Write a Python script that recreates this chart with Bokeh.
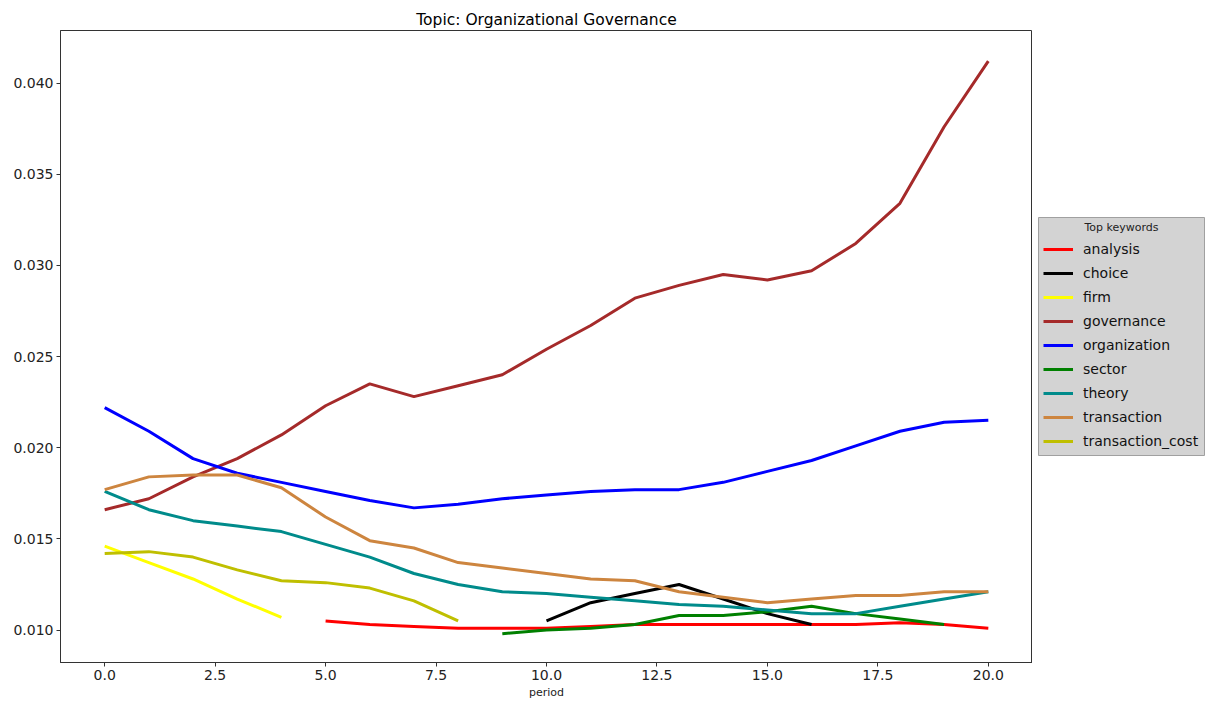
from bokeh.plotting import figure
from bokeh.models import Legend, LegendItem, FixedTicker, NumeralTickFormatter, Range1d
from bokeh.core.properties import value
from bokeh.layouts import row
from bokeh.embed import file_html
from bokeh.resources import INLINE

FONT = "DejaVu Sans"

analysis_x = list(range(5, 21))
analysis_y = [0.0105, 0.0103, 0.0102, 0.0101, 0.0101, 0.0101, 0.0102, 0.0103, 0.0103, 0.0103,
              0.0103, 0.0103, 0.0103, 0.0104, 0.0103, 0.0101]
choice_x = list(range(10, 17))
choice_y = [0.0105, 0.0115, 0.0120, 0.0125, 0.0117, 0.0109, 0.0103]
firm_x = list(range(0, 5))
firm_y = [0.0146, 0.0137, 0.0128, 0.0117, 0.0107]
governance_x = list(range(0, 21))
governance_y = [0.0166, 0.0172, 0.0184, 0.0194, 0.0207, 0.0223, 0.0235, 0.0228, 0.0234, 0.0240,
                0.0254, 0.0267, 0.0282, 0.0289, 0.0295, 0.0292, 0.0297, 0.0312, 0.0334, 0.0376, 0.0412]
organization_x = list(range(0, 21))
organization_y = [0.0222, 0.0209, 0.0194, 0.0186, 0.0181, 0.0176, 0.0171, 0.0167, 0.0169, 0.0172,
                  0.0174, 0.0176, 0.0177, 0.0177, 0.0181, 0.0187, 0.0193, 0.0201, 0.0209, 0.0214, 0.0215]
sector_x = list(range(9, 20))
sector_y = [0.0098, 0.0100, 0.0101, 0.0103, 0.0108, 0.0108, 0.0110, 0.0113, 0.0109, 0.0106, 0.0103]
theory_x = list(range(0, 21))
theory_y = [0.0176, 0.0166, 0.0160, 0.0157, 0.0154, 0.0147, 0.0140, 0.0131, 0.0125, 0.0121,
            0.0120, 0.0118, 0.0116, 0.0114, 0.0113, 0.0111, 0.0109, 0.0109, 0.0113, 0.0117, 0.0121]
transaction_x = list(range(0, 21))
transaction_y = [0.0177, 0.0184, 0.0185, 0.0185, 0.0178, 0.0162, 0.0149, 0.0145, 0.0137, 0.0134,
                 0.0131, 0.0128, 0.0127, 0.0121, 0.0118, 0.0115, 0.0117, 0.0119, 0.0119, 0.0121, 0.0121]
transaction_cost_x = list(range(0, 9))
transaction_cost_y = [0.0142, 0.0143, 0.0140, 0.0133, 0.0127, 0.0126, 0.0123, 0.0116, 0.0105]

series = [
    ("analysis", analysis_x, analysis_y, "#ff0000"),
    ("choice", choice_x, choice_y, "#000000"),
    ("firm", firm_x, firm_y, "#ffff00"),
    ("governance", governance_x, governance_y, "#a52a2a"),
    ("organization", organization_x, organization_y, "#0000ff"),
    ("sector", sector_x, sector_y, "#008000"),
    ("theory", theory_x, theory_y, "#008b8b"),
    ("transaction", transaction_x, transaction_y, "#cd853f"),
    ("transaction_cost", transaction_cost_x, transaction_cost_y, "#bfbf00"),
]
legend_title = "Top keywords"

x_ticks = [0, 2.5, 5, 7.5, 10, 12.5, 15, 17.5, 20]
y_ticks = [0.010, 0.015, 0.020, 0.025, 0.030, 0.035, 0.040]

H = 704
TOP, BOTTOM = 30, 42
p = figure(width=1032, height=H, output_backend="svg", toolbar_location=None,
           x_range=Range1d(-1.0, 21.0), y_range=Range1d(0.00822, 0.04288),
           min_border_left=60, min_border_right=0, min_border_top=TOP, min_border_bottom=BOTTOM)

p.title.text = "Topic: Organizational Governance"
p.title.align = "center"
p.title.text_font = FONT
p.title.text_font_size = "15.5px"
p.title.text_font_style = "normal"
p.title.text_color = "#000000"
p.title.standoff = 4

p.xgrid.visible = False
p.ygrid.visible = False
p.outline_line_color = "#333333"
p.outline_line_width = 1

for ax in (p.xaxis[0], p.yaxis[0]):
    ax.axis_line_color = "#333333"
    ax.major_tick_line_color = "#333333"
    ax.major_tick_out = 4
    ax.major_tick_in = 0
    ax.minor_tick_line_color = None
    ax.major_label_text_font = FONT
    ax.major_label_text_font_size = "14px"
    ax.major_label_text_color = "#222222"
    ax.major_label_standoff = 3

p.xaxis.ticker = FixedTicker(ticks=x_ticks)
p.xaxis.formatter = NumeralTickFormatter(format="0.0")
p.yaxis.ticker = FixedTicker(ticks=y_ticks)
p.yaxis.formatter = NumeralTickFormatter(format="0.000")
p.xaxis.axis_label = "period"
p.xaxis.axis_label_text_font = FONT
p.xaxis.axis_label_text_font_size = "11px"
p.xaxis.axis_label_text_font_style = "normal"
p.xaxis.axis_label_text_color = "#222222"
p.xaxis.axis_label_standoff = 3

for name, xs, ys, col in series:
    p.line(xs, ys, line_color=col, line_width=3)

# legend panel: a separate axis-less figure to the right of the plot
LW = 174
FH = H - TOP - BOTTOM
q = figure(width=LW, height=H, output_backend="svg", toolbar_location=None,
           x_range=Range1d(0, LW), y_range=Range1d(0, FH),
           x_axis_type=None, y_axis_type=None,
           min_border_left=0, min_border_right=0, min_border_top=TOP, min_border_bottom=BOTTOM)
q.outline_line_color = None
q.xgrid.visible = False
q.ygrid.visible = False

# legend box background + centred title (drawn as glyphs, beneath the legend items)
LX, LY, LBW, LBH = 6, 207, 166, 238
q.quad(left=[LX], right=[LX + LBW], bottom=[LY], top=[LY + LBH],
       fill_color="#d3d3d3", line_color="#a0a0a0", line_width=1)
q.text(x=[LX + LBW / 2], y=[LY + LBH - 10], text=[legend_title],
       text_font=value(FONT), text_font_size="11px", text_color="#222222",
       text_align="center", text_baseline="middle")

items = []
for name, xs, ys, col in series:
    r = q.line(x=[-100, -90], y=[-100, -100], line_color=col, line_width=3)
    items.append(LegendItem(label=name, renderers=[r]))

legend = Legend(items=items, location=(LX + 5, LY + 4))
legend.label_text_font = FONT
legend.label_text_font_size = "14px"
legend.label_text_color = "#111111"
legend.background_fill_alpha = 0.0
legend.border_line_color = None
legend.glyph_width = 30
legend.glyph_height = 20
legend.label_height = 20
legend.spacing = 4
legend.padding = 5
legend.margin = 0
legend.label_standoff = 10
legend.title = " "
legend.title_text_font_size = "11px"
legend.title_standoff = 3
q.add_layout(legend)

layout = row(p, q)
open("out.html", "w").write(file_html(layout, INLINE))
